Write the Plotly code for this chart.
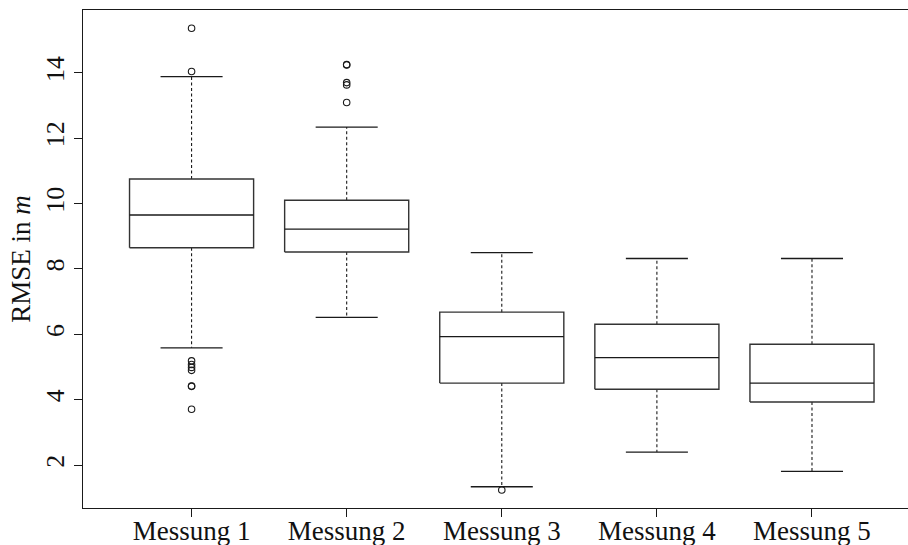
import plotly.graph_objects as go

categories = ["Messung 1", "Messung 2", "Messung 3", "Messung 4", "Messung 5"]
positions = [1, 2, 3, 4, 5]
q1 = [8.65, 8.52, 4.51, 4.32, 3.93]
median = [9.65, 9.22, 5.93, 5.29, 4.51]
q3 = [10.75, 10.10, 6.68, 6.31, 5.70]
lower_whisker = [5.59, 6.52, 1.34, 2.40, 1.81]
upper_whisker = [13.88, 12.34, 8.50, 8.32, 8.32]

outliers_1 = [15.36, 14.04, 5.19, 5.08, 4.99, 4.90, 4.42, 4.41, 3.71]
outliers_2 = [14.25, 14.24, 13.70, 13.63, 13.09]
outliers_3 = [1.24]
outliers_4 = []
outliers_5 = []
all_outliers = [outliers_1, outliers_2, outliers_3, outliers_4, outliers_5]

y_ticks = [2, 4, 6, 8, 10, 12, 14]

BOX_HALF = 0.4
CAP_HALF = 0.2
FONT = "Liberation Serif"
LINE_COLOR = "#1a1a1a"

box_x, box_y = [], []
med_x, med_y = [], []
wh_x, wh_y = [], []
cap_x, cap_y = [], []
out_x, out_y = [], []
for i, p in enumerate(positions):
    box_x += [p - BOX_HALF, p + BOX_HALF, p + BOX_HALF, p - BOX_HALF, p - BOX_HALF, None]
    box_y += [q1[i], q1[i], q3[i], q3[i], q1[i], None]
    med_x += [p - BOX_HALF, p + BOX_HALF, None]
    med_y += [median[i], median[i], None]
    wh_x += [p, p, None, p, p, None]
    wh_y += [q3[i], upper_whisker[i], None, q1[i], lower_whisker[i], None]
    cap_x += [p - CAP_HALF, p + CAP_HALF, None, p - CAP_HALF, p + CAP_HALF, None]
    cap_y += [upper_whisker[i], upper_whisker[i], None, lower_whisker[i], lower_whisker[i], None]
    for v in all_outliers[i]:
        out_x.append(p)
        out_y.append(v)

fig = go.Figure()
fig.add_trace(go.Scatter(x=wh_x, y=wh_y, mode="lines",
                         line=dict(color=LINE_COLOR, width=1.1, dash="3px,2.5px"),
                         hoverinfo="skip", showlegend=False))
fig.add_trace(go.Scatter(x=box_x, y=box_y, mode="lines",
                         line=dict(color="#333333", width=1.4),
                         hoverinfo="skip", showlegend=False))
fig.add_trace(go.Scatter(x=med_x, y=med_y, mode="lines",
                         line=dict(color=LINE_COLOR, width=1.3),
                         hoverinfo="skip", showlegend=False))
fig.add_trace(go.Scatter(x=cap_x, y=cap_y, mode="lines",
                         line=dict(color=LINE_COLOR, width=1.3),
                         hoverinfo="skip", showlegend=False))
fig.add_trace(go.Scatter(x=out_x, y=out_y, mode="markers",
                         marker=dict(symbol="circle-open", size=6.5,
                                     color=LINE_COLOR, line=dict(width=1.1)),
                         showlegend=False))

fig.update_layout(
    width=908, height=545,
    margin=dict(l=83, r=0, t=10, b=37),
    paper_bgcolor="white", plot_bgcolor="white",
    font=dict(family=FONT, size=26, color="#111111"),
    showlegend=False,
    xaxis=dict(
        range=[0.3, 5.619], automargin=False,
        tickmode="array", tickvals=positions, ticktext=categories,
        ticks="outside", ticklen=8, tickcolor=LINE_COLOR, tickwidth=1.2,
        ticklabelstandoff=-10,
        showline=True, linecolor=LINE_COLOR, linewidth=1.2, mirror=True,
        showgrid=False, zeroline=False,
        tickfont=dict(family=FONT, size=27),
    ),
    yaxis=dict(
        range=[0.69, 15.92], automargin=False,
        tickmode="array", tickvals=y_ticks, ticktext=[str(t) for t in y_ticks],
        ticks="outside", ticklen=8, tickcolor=LINE_COLOR, tickwidth=1.2,
        tickangle=-90,
        showline=True, linecolor=LINE_COLOR, linewidth=1.2, mirror=False,
        showgrid=False, zeroline=False,
        tickfont=dict(family=FONT, size=26),
        title=dict(text="RMSE in <i>m</i>", font=dict(family=FONT, size=27), standoff=2),
    ),
)

fig.write_html(
    "out.html",
    config={"displayModeBar": False},
    post_script="document.body.style.margin='0';document.body.style.overflow='hidden';",
)
